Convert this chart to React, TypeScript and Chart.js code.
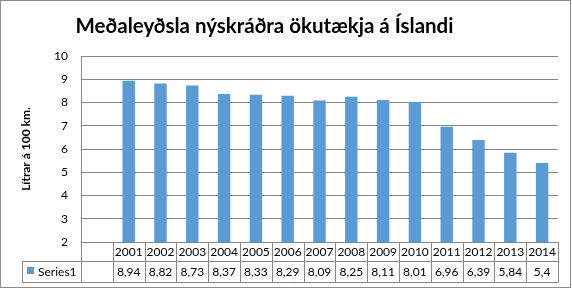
import React, { useEffect, useRef } from "react";
import { Chart, registerables } from "chart.js";

Chart.register(...registerables);

const TITLE = "Meðaleyðsla nýskráðra ökutækja á Íslandi";
const Y_TITLE = "Lítrar á 100 km.";
const SERIES_NAME = "Series1";
const YEARS = ["", "2001", "2002", "2003", "2004", "2005", "2006", "2007", "2008", "2009", "2010", "2011", "2012", "2013", "2014"];
const VALUES: (number | null)[] = [null, 8.94, 8.82, 8.73, 8.37, 8.33, 8.29, 8.09, 8.25, 8.11, 8.01, 6.96, 6.39, 5.84, 5.4];
const Y_MIN = 2;
const Y_MAX = 10;
const Y_STEP = 1;

const BAR_COLOR = "#5B9BD5";
const GRID_COLOR = "#868686";
const TEXT_COLOR = "#000000";
const FONT = "Lato, 'Open Sans', sans-serif";

const px = (v: number) => Math.round(v) + 0.5;

const tablePlugin = {
  id: "dataTable",
  beforeDraw(chart: any) {
    const { ctx, width, height } = chart;
    ctx.save();
    ctx.fillStyle = "#ffffff";
    ctx.fillRect(0, 0, width, height);
    ctx.restore();
  },
  afterDraw(chart: any) {
    const { ctx, chartArea, width, height } = chart;
    const xs = chart.scales.x;
    const n = YEARS.length;
    const left = chartArea.left;
    const right = chartArea.right;
    const cw = (right - left) / n;
    const top = chartArea.bottom;
    const row1 = top + 19;
    const row2 = row1 + 21;
    const legendLeft = 22.5;

    ctx.save();
    // title
    ctx.fillStyle = TEXT_COLOR;
    ctx.font = `bold 20.5px ${FONT}`;
    ctx.textAlign = "center";
    ctx.textBaseline = "alphabetic";
    ctx.fillText(TITLE, 264.5, 33);

    ctx.strokeStyle = GRID_COLOR;
    ctx.lineWidth = 1;
    ctx.beginPath();
    ctx.moveTo(px(left), px(top));
    ctx.lineTo(px(right), px(top));
    ctx.moveTo(legendLeft, px(row1));
    ctx.lineTo(px(right), px(row1));
    ctx.moveTo(legendLeft, px(row2));
    ctx.lineTo(px(right), px(row2));
    for (let i = 0; i <= n; i++) {
      const x = px(left + i * cw);
      ctx.moveTo(x, px(top));
      ctx.lineTo(x, px(row2));
    }
    ctx.moveTo(legendLeft, px(row1));
    ctx.lineTo(legendLeft, px(row2));
    ctx.stroke();

    ctx.fillStyle = TEXT_COLOR;
    ctx.font = `12px ${FONT}`;
    ctx.textAlign = "center";
    ctx.textBaseline = "middle";
    for (let i = 0; i < n; i++) {
      const cx = xs.getPixelForValue(i);
      if (YEARS[i]) ctx.fillText(YEARS[i], cx, (top + row1) / 2 + 1);
      const v = VALUES[i];
      if (v !== null && v !== undefined) {
        ctx.fillText(String(v).replace(".", ","), cx, (row1 + row2) / 2 + 1);
      }
    }
    ctx.fillStyle = BAR_COLOR;
    ctx.fillRect(27, 267, 7, 7);
    ctx.fillStyle = TEXT_COLOR;
    ctx.textAlign = "left";
    ctx.fillText(SERIES_NAME, 38, (row1 + row2) / 2 + 1);

    // outer border
    ctx.strokeStyle = "#8c8c8c";
    ctx.strokeRect(0.5, 0.5, width - 2, height - 2);
    ctx.restore();
  },
};

export default function App() {
  const ref = useRef<HTMLCanvasElement | null>(null);
  useEffect(() => {
    if (!ref.current) return;
    const chart = new Chart(ref.current, {
      type: "bar",
      data: {
        labels: YEARS,
        datasets: [
          {
            label: SERIES_NAME,
            data: VALUES as any,
            backgroundColor: BAR_COLOR,
            borderWidth: 0,
            categoryPercentage: 1,
            barPercentage: 0.39,
          },
        ],
      },
      options: {
        responsive: false,
        animation: false,
        layout: { padding: { left: 0, right: 14, top: 56, bottom: 7 } },
        plugins: {
          legend: { display: false },
          tooltip: { enabled: false },
          title: { display: false },
        },
        scales: {
          x: {
            type: "category",
            offset: true,
            grid: { display: false },
            border: { display: false },
            ticks: { display: false },
            afterFit: (s: any) => {
              s.height = 40;
            },
          },
          y: {
            min: Y_MIN,
            max: Y_MAX,
            ticks: {
              stepSize: Y_STEP,
              color: TEXT_COLOR,
              font: { family: FONT, size: 12 },
              padding: 13,
            },
            grid: { color: GRID_COLOR, drawTicks: false },
            border: { display: true, color: GRID_COLOR },
            title: {
              display: true,
              text: Y_TITLE,
              color: TEXT_COLOR,
              font: { family: FONT, size: 12, weight: "bold" },
              padding: { top: 19, bottom: 0 },
            },
            afterFit: (s: any) => {
              s.width = 81;
            },
          },
        },
      },
      plugins: [tablePlugin],
    });
    return () => chart.destroy();
  }, []);
  return (
    <div style={{ position: "absolute", left: 0, top: 0, width: 572, height: 289 }}>
      <canvas ref={ref} width={572} height={289} style={{ display: "block" }} />
    </div>
  );
}
